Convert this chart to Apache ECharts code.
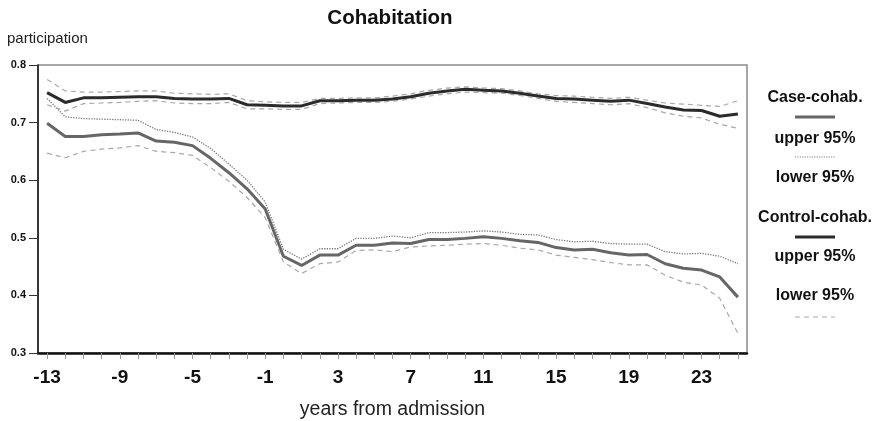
<!DOCTYPE html>
<html>
<head>
<meta charset="utf-8">
<script src="https://cdn.jsdelivr.net/npm/echarts@6/dist/echarts.min.js"></script>
<style>
  html, body { margin: 0; padding: 0; background: #fff; }
  #chart { width: 875px; height: 421px; }
</style>
</head>
<body>
<div id="chart"></div>
<script>
// Years relative to admission
const years = ['-13','-12','-11','-10','-9','-8','-7','-6','-5','-4','-3','-2','-1','0','1','2','3','4','5','6','7','8','9','10','11','12','13','14','15','16','17','18','19','20','21','22','23','24','25'];

// Cases: cohabitation participation with 95% bounds
const caseCohab = [0.699,0.676,0.676,0.679,0.680,0.682,0.668,0.666,0.660,0.638,0.613,0.585,0.550,0.468,0.452,0.470,0.470,0.487,0.487,0.491,0.490,0.497,0.497,0.499,0.502,0.499,0.495,0.492,0.483,0.479,0.480,0.474,0.470,0.471,0.455,0.447,0.444,0.432,0.397];
const caseUpper = [0.742,0.710,0.707,0.706,0.705,0.704,0.688,0.683,0.675,0.655,0.628,0.600,0.562,0.480,0.463,0.481,0.481,0.499,0.499,0.503,0.500,0.509,0.509,0.510,0.512,0.510,0.506,0.505,0.497,0.493,0.494,0.490,0.489,0.489,0.476,0.472,0.473,0.468,0.455];
const caseLower = [0.647,0.639,0.650,0.654,0.656,0.660,0.650,0.648,0.643,0.622,0.598,0.570,0.535,0.458,0.438,0.455,0.458,0.478,0.479,0.476,0.484,0.486,0.487,0.489,0.490,0.487,0.482,0.479,0.470,0.466,0.462,0.457,0.453,0.453,0.435,0.423,0.418,0.395,0.334];

// Controls: cohabitation participation with 95% bounds
const controlCohab = [0.752,0.735,0.743,0.743,0.744,0.745,0.745,0.742,0.741,0.741,0.742,0.731,0.730,0.729,0.729,0.738,0.738,0.739,0.739,0.741,0.745,0.751,0.755,0.758,0.756,0.755,0.751,0.746,0.742,0.741,0.739,0.737,0.739,0.733,0.727,0.722,0.721,0.711,0.715];
const controlUpper = [0.775,0.755,0.753,0.753,0.754,0.755,0.755,0.751,0.750,0.749,0.750,0.738,0.736,0.735,0.735,0.742,0.742,0.743,0.743,0.746,0.750,0.756,0.760,0.762,0.760,0.759,0.755,0.750,0.747,0.746,0.744,0.742,0.744,0.739,0.734,0.732,0.730,0.728,0.738];
const controlLower = [0.731,0.720,0.733,0.734,0.735,0.737,0.738,0.734,0.733,0.733,0.735,0.724,0.724,0.723,0.723,0.733,0.734,0.735,0.735,0.737,0.741,0.746,0.750,0.753,0.752,0.751,0.747,0.742,0.737,0.735,0.733,0.731,0.733,0.726,0.717,0.711,0.708,0.697,0.690];

const yTicks = [0.3, 0.4, 0.5, 0.6, 0.7, 0.8];

const FONT = '"Liberation Sans", Arial, Helvetica, sans-serif';

const chart = echarts.init(document.getElementById('chart'), null, { renderer: 'canvas' });

function lineSeries(name, data, color, width, type, z) {
  return {
    name: name,
    type: 'line',
    data: data,
    symbol: 'none',
    smooth: false,
    z: z,
    lineStyle: { color: color, width: width, type: type },
    emphasis: { disabled: true }
  };
}

// Legend: label text with a line sample beneath, stacked on the right
const legendX = 815;
const legendRows = [
  { text: 'Case-cohab.', y: 98, sample: { y: 117, color: '#666', width: 3, dash: null } },
  { text: 'upper 95%', y: 139, sample: { y: 157, color: '#888', width: 1.2, dash: [1.2, 1.2] } },
  { text: 'lower 95%', y: 178, sample: null },
  { text: 'Control-cohab.', y: 218, sample: { y: 237, color: '#2b2b2b', width: 3, dash: null } },
  { text: 'upper 95%', y: 257, sample: null },
  { text: 'lower 95%', y: 296, sample: { y: 317, color: '#aaa', width: 1.2, dash: [5, 4] } }
];

const graphics = [
  {
    type: 'text', x: 390, y: 18,
    style: { text: 'Cohabitation', fill: '#111', font: 'bold 20.5px ' + FONT, align: 'center', verticalAlign: 'middle' }
  },
  {
    type: 'text', x: 7, y: 39,
    style: { text: 'participation', fill: '#222', font: '15px ' + FONT, align: 'left', verticalAlign: 'middle' }
  }
];
legendRows.forEach(function (r) {
  graphics.push({
    type: 'text', x: legendX, y: r.y,
    style: { text: r.text, fill: '#111', font: 'bold 16px ' + FONT, align: 'center', verticalAlign: 'middle' }
  });
  if (r.sample) {
    graphics.push({
      type: 'line',
      shape: { x1: legendX - 20, y1: r.sample.y, x2: legendX + 20, y2: r.sample.y },
      style: { stroke: r.sample.color, lineWidth: r.sample.width, lineDash: r.sample.dash }
    });
  }
});

chart.setOption({
  animation: false,
  backgroundColor: '#fff',
  grid: {
    left: 38, right: 128, top: 65, bottom: 68,
    outerBoundsMode: 'none',
    containLabel: false,
    show: true, borderColor: '#8a8a8a', borderWidth: 1.5, backgroundColor: 'transparent'
  },
  xAxis: {
    type: 'category',
    data: years,
    boundaryGap: true,
    name: 'years from admission',
    nameLocation: 'middle',
    nameGap: 47,
    nameTextStyle: { fontFamily: FONT, fontSize: 19.5, color: '#222' },
    axisLine: { show: true, lineStyle: { color: '#111', width: 2.5 } },
    axisTick: { show: true, alignWithLabel: true, interval: 0, length: 6, lineStyle: { color: '#999', width: 1 } },
    axisLabel: { interval: 3, fontFamily: FONT, fontSize: 19, fontWeight: 'bold', color: '#111', margin: 15 },
    splitLine: { show: false }
  },
  yAxis: {
    type: 'value',
    min: yTicks[0],
    max: yTicks[yTicks.length - 1],
    interval: 0.1,
    axisLine: { show: true, lineStyle: { color: '#111', width: 1.5 } },
    axisTick: { show: true, length: 9, lineStyle: { color: '#333', width: 1 } },
    axisLabel: {
      fontFamily: FONT, fontSize: 11, fontWeight: 'bold', color: '#111', margin: 12,
      formatter: function (v) { return v.toFixed(1); }
    },
    splitLine: { show: false }
  },
  series: [
    lineSeries('Case lower 95%', caseLower, '#a8a8a8', 1.2, [5, 4], 2),
    lineSeries('Case upper 95%', caseUpper, '#7a7a7a', 1.3, [1.3, 1.3], 2),
    lineSeries('Case-cohab.', caseCohab, '#666666', 3, 'solid', 3),
    lineSeries('Control lower 95%', controlLower, '#a8a8a8', 1.2, [5, 4], 2),
    lineSeries('Control upper 95%', controlUpper, '#a8a8a8', 1.2, [5, 4], 2),
    lineSeries('Control-cohab.', controlCohab, '#2b2b2b', 3, 'solid', 4)
  ],
  graphic: graphics
});
</script>
</body>
</html>
